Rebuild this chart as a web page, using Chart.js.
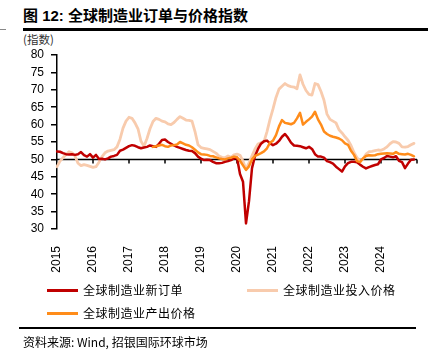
<!DOCTYPE html>
<html><head><meta charset="utf-8">
<script src="https://cdn.jsdelivr.net/npm/chart.js@4.4.1/dist/chart.umd.min.js"></script>
<style>
html,body{margin:0;padding:0;background:#fff;}
body{width:442px;height:357px;position:relative;overflow:hidden;font-family:"Liberation Sans","Noto Sans CJK SC",sans-serif;color:#000;}
#wrap{position:absolute;left:0;top:0;width:442px;height:357px;}
.t{position:absolute;white-space:nowrap;line-height:1;}
.cjk{font-family:"Noto Sans CJK SC","Liberation Sans",sans-serif;}
.sw{position:absolute;width:31px;height:3px;}
.rule{position:absolute;background:#000;}
</style></head>
<body>
<div class="t" style="left:23px;top:8px;font-size:15px;font-weight:bold;">图 12: 全球制造业订单与价格指数</div>
<div class="rule" style="left:23px;top:28px;width:405px;height:2.5px;"></div>
<div class="rule" style="left:0px;top:29px;width:6px;height:1px;background:#888;"></div>
<div class="t cjk" style="left:23px;top:34px;font-size:11.5px;color:#333;">(指数)</div>
<div id="wrap"><canvas id="c" width="442" height="357"></canvas></div>
<div class="sw" style="left:47px;top:288.5px;background:#C00000;"></div>
<div class="t cjk" style="left:83px;top:284px;font-size:12px;letter-spacing:0.5px;">全球制造业新订单</div>
<div class="sw" style="left:247px;top:288.5px;background:#F8CBAD;"></div>
<div class="t cjk" style="left:283px;top:284px;font-size:12px;letter-spacing:0.5px;">全球制造业投入价格</div>
<div class="sw" style="left:47px;top:311.5px;background:#FF8C1A;"></div>
<div class="t cjk" style="left:83px;top:307px;font-size:12px;letter-spacing:0.5px;">全球制造业产出价格</div>
<div class="rule" style="left:19px;top:327px;width:397px;height:2px;"></div>
<div class="t cjk" style="left:23px;top:336px;font-size:12px;">资料来源: Wind, 招银国际环球市场</div>
<script>
const tickYears = ['2015','2016','2017','2018','2019','2020','2021','2022','2023','2024'];
const monthNames = ['01','02','03','04','05','06','07','08','09','10','11','12'];
const yTicks = [30,35,40,45,50,55,60,65,70,75,80];
const baseValue = 50;

const newOrders = [
 52.3,52.2,51.8,51.5,51.4,51.5,51.3,51.5,52.1,51.2,50.8,51.5,
 50.5,51.3,50.1,50.2,50.0,50.3,50.8,51.0,51.3,52.5,52.8,53.3,
 53.8,54.1,53.9,53.5,53.2,53.4,53.6,54.0,53.8,53.6,54.5,55.6,
 55.7,55.0,54.5,54.0,53.6,53.3,53.0,52.7,52.5,52.4,51.8,50.8,
 50.2,49.8,49.9,49.8,49.3,48.9,48.9,49.0,49.3,49.5,49.8,50.3,
 50.5,45.8,43.6,31.6,38.0,47.5,51.0,53.0,54.5,55.2,55.4,54.6,
 54.1,54.5,55.3,56.5,57.3,56.2,54.8,54.0,53.9,53.8,53.5,53.2,
 53.6,53.0,51.5,50.8,50.8,50.5,49.5,49.2,48.8,47.9,47.2,46.5,
 48.0,48.9,49.3,49.3,49.2,48.5,47.9,47.4,47.8,48.1,48.4,48.6,
 50.0,50.4,51.0,50.8,50.6,50.9,49.6,49.2,47.5,48.8,49.9,50.0
];
const inputPrices = [
 47.9,49.5,50.5,51.4,52.2,51.9,51.0,48.9,48.2,48.5,48.3,48.0,
 47.7,47.9,49.2,50.8,51.9,52.4,52.6,52.8,53.6,55.8,59.0,61.0,
 62.1,61.8,60.5,58.8,55.2,53.8,56.0,58.8,60.9,61.8,61.5,61.0,
 60.8,60.2,60.0,60.6,61.5,62.3,61.8,61.3,61.2,61.0,58.0,54.2,
 53.4,53.2,53.0,52.8,52.3,51.8,51.0,50.6,50.5,51.0,50.6,51.3,
 51.5,51.2,49.5,47.2,49.0,51.0,53.0,54.4,54.8,55.1,58.0,61.5,
 64.5,67.8,70.2,71.0,71.8,71.2,70.9,70.8,70.3,74.3,71.6,69.8,
 68.7,68.5,71.8,71.5,69.5,67.0,63.0,61.5,61.0,60.5,58.5,57.6,
 56.5,55.5,54.0,52.0,50.5,49.4,50.2,51.5,52.2,52.3,52.5,52.7,
 52.6,53.0,53.6,54.5,55.1,55.0,54.6,53.6,53.5,53.7,54.2,54.6
];
const outputPrices = [
 null,null,null,null,null,null,null,null,null,null,null,null,
 null,null,null,null,null,null,null,null,null,null,null,null,
 null,null,null,null,null,null,null,null,53.6,53.8,54.0,54.2,
 53.8,53.6,54.0,54.1,54.3,55.0,54.6,54.2,54.0,53.5,52.8,52.0,
 51.5,51.4,51.3,51.0,50.9,50.6,50.3,50.1,50.0,50.3,50.5,50.8,
 50.6,49.6,48.3,47.0,48.0,50.0,51.0,51.4,51.8,52.3,53.2,54.8,
 55.4,57.0,59.5,61.3,60.5,60.3,60.1,60.5,61.8,63.4,60.0,60.8,
 61.5,62.3,63.7,61.5,60.0,58.0,57.3,56.8,56.5,56.3,56.0,55.5,
 54.6,54.2,52.5,51.3,49.5,49.2,50.3,51.0,51.2,51.1,51.2,51.5,
 51.6,51.7,51.8,51.7,51.6,52.1,51.6,51.5,51.4,51.6,51.3,50.9
];

const categories = [];
tickYears.forEach(y => monthNames.forEach(m => categories.push(y + '-' + m)));
categories.push('2025-01');

const midLine = {
  id: 'midLine',
  beforeDatasetsDraw(chart) {
    const {ctx, chartArea, scales} = chart;
    const yy = scales.y.getPixelForValue(baseValue);
    ctx.save();
    ctx.strokeStyle = '#000';
    ctx.lineWidth = 1.5;
    ctx.beginPath();
    ctx.moveTo(chartArea.left, yy);
    ctx.lineTo(chartArea.right, yy);
    for (let i = 12; i < categories.length; i += 12) {
      const px = scales.x.getPixelForValue(i);
      ctx.moveTo(px, yy);
      ctx.lineTo(px, yy + 4);
    }
    ctx.stroke();
    ctx.restore();
  }
};

Chart.defaults.font.family = '"Liberation Sans", Arial, sans-serif';
Chart.defaults.font.size = 12;
Chart.defaults.color = '#000';

new Chart(document.getElementById('c'), {
  type: 'line',
  data: {
    labels: categories,
    datasets: [
      {label: '全球制造业产出价格', data: outputPrices, borderColor: '#FF8C1A', borderWidth: 2.5, order: 1},
      {label: '全球制造业新订单', data: newOrders, borderColor: '#C00000', borderWidth: 2.5, order: 2},
      {label: '全球制造业投入价格', data: inputPrices, borderColor: '#F8CBAD', borderWidth: 2.8, order: 3}
    ]
  },
  options: {
    responsive: false,
    animation: false,
    spanGaps: false,
    elements: {point: {radius: 0}, line: {tension: 0, borderJoinStyle: 'round', borderCapStyle: 'round'}},
    layout: {padding: {left: 0, top: 55, right: 25, bottom: 80}},
    plugins: {legend: {display: false}, tooltip: {enabled: false}},
    scales: {
      x: {
        type: 'category',
        offset: false,
        grid: {display: false},
        border: {display: false},
        ticks: {
          autoSkip: false, maxRotation: 90, minRotation: 90, padding: 9,
          font: {size: 12},
          callback: (v, i) => (i % 12 === 0 && i / 12 < tickYears.length) ? tickYears[i / 12] : ''
        },
        afterFit: s => { s.height = 48; }
      },
      y: {
        min: 30, max: 80,
        afterBuildTicks: s => { s.ticks = yTicks.map(v => ({value: v})); },
        grid: {display: true, drawOnChartArea: false, drawTicks: true, tickLength: 6, color: '#000', lineWidth: 1.5},
        border: {display: true, color: '#000', width: 1.5},
        ticks: {padding: 7, font: {size: 12}},
        afterFit: s => { s.width = 57; }
      }
    }
  },
  plugins: [midLine]
});
</script>
</body></html>
